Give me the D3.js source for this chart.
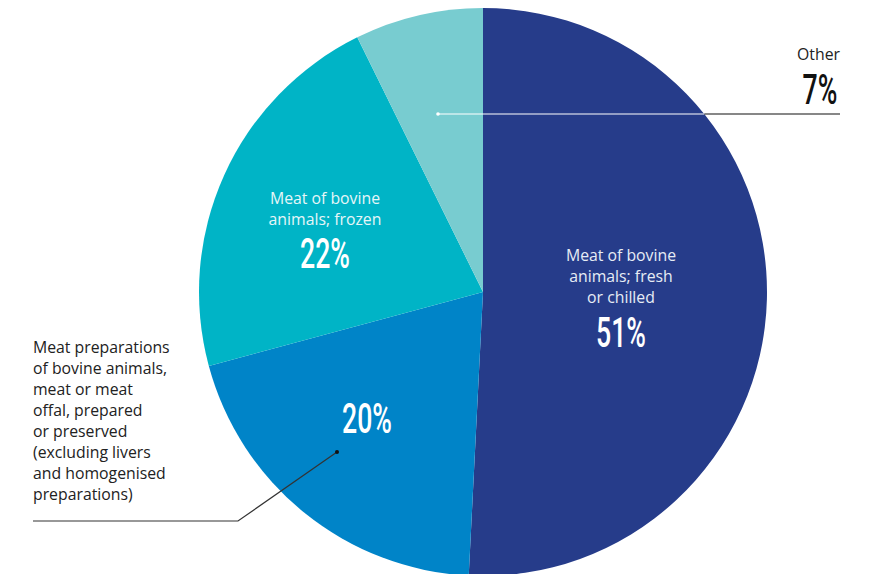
<!DOCTYPE html>
<html><head><meta charset="utf-8">
<script src="https://cdn.jsdelivr.net/npm/d3@7"></script>
<style>
html,body{margin:0;padding:0;background:#fff;overflow:hidden}
svg{display:block}
</style></head>
<body>
<svg id="c" width="878" height="574"></svg>
<script>
const categories = ["Meat of bovine animals; fresh or chilled","Meat preparations of bovine animals, meat or meat offal, prepared or preserved (excluding livers and homogenised preparations)","Meat of bovine animals; frozen","Other"];
const values = [50.8, 20.0, 21.9, 7.3];
const colors = ["#263c8a", "#0084c8", "#00b4c6", "#78ccd0"];
const pctLabels = ["51%", "20%", "22%", "7%"];

const svg = d3.select("#c");
const cx = 483, cy = 292, R = 284;
const pie = d3.pie().sort(null).value(d => d)(values);
const arc = d3.arc().innerRadius(0).outerRadius(R);
const g = svg.append("g").attr("transform", `translate(${cx},${cy})`);
g.selectAll("path").data(pie).join("path").attr("d", arc).attr("fill", (d,i) => colors[i]);

const labelFont = "'Open Sans', 'Noto Sans', sans-serif";
const pctFont = "Roboto, sans-serif";

function pct(x, y, txt, fill) {
  svg.append("text").attr("transform", `translate(${x},${y}) scale(0.62,1)`)
    .attr("text-anchor", "middle").attr("font-family", pctFont).attr("font-size", 43)
    .attr("font-weight", 500).attr("fill", fill).text(txt);
}
function lines(x, y, arr, anchor, fill, lh) {
  const t = svg.append("text").attr("font-family", labelFont).attr("font-size", 15.8)
    .attr("fill", fill).attr("text-anchor", anchor);
  arr.forEach((s, i) => t.append("tspan").attr("x", x).attr("y", y + i*lh).text(s));
}

// 51%
lines(621, 261, ["Meat of bovine", "animals; fresh", "or chilled"], "middle", "#e6ecf5", 21);
pct(621, 347, pctLabels[0], "#fff");
// 22%
lines(325, 204, ["Meat of bovine", "animals; frozen"], "middle", "#e6f6f8", 21);
pct(325, 268, pctLabels[2], "#fff");
// 20%
pct(367, 433, pctLabels[1], "#fff");
// Other
const edgeX = cx + Math.sqrt(R*R - (114-cy)*(114-cy));
svg.append("line").attr("x1", 438).attr("y1", 114).attr("x2", edgeX).attr("y2", 114).attr("stroke", "#fff").attr("stroke-width", 1);
svg.append("line").attr("x1", edgeX).attr("y1", 114).attr("x2", 840).attr("y2", 114).attr("stroke", "#111").attr("stroke-width", 1.2);
svg.append("circle").attr("cx", 438).attr("cy", 114).attr("r", 1.8).attr("fill", "#fff");
lines(840, 60, ["Other"], "end", "#222", 21);
pct(820, 104, pctLabels[3], "#111");
// left leader
svg.append("polyline").attr("points", "337,452 238,521 33,521").attr("fill", "none").attr("stroke", "#333").attr("stroke-width", 1.2);
svg.append("circle").attr("cx", 337).attr("cy", 452).attr("r", 2).attr("fill", "#111");
lines(33, 353, ["Meat preparations","of bovine animals,","meat or meat","offal, prepared","or preserved","(excluding livers","and homogenised","preparations)"], "start", "#222", 21);
</script>
</body></html>
